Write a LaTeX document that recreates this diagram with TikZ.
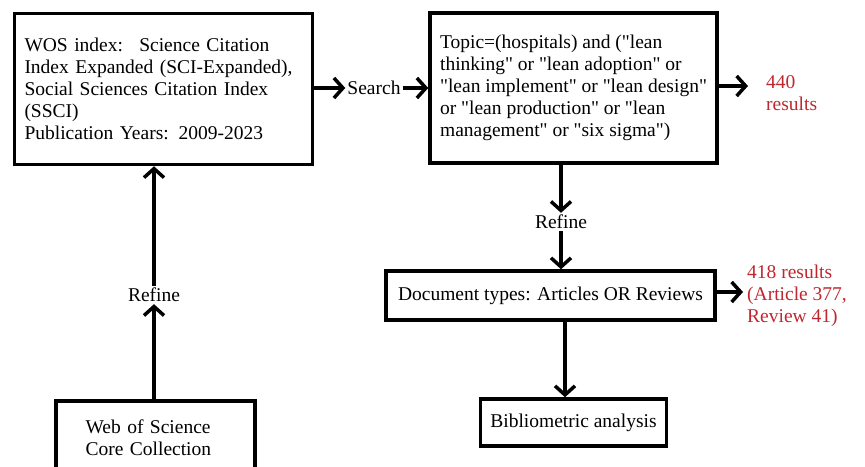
\documentclass[tikz,border=0pt]{standalone}
\usepackage{fontspec}
\setmainfont{Liberation Serif}[Ligatures=TeXOff]
\usetikzlibrary{arrows.meta}
\definecolor{resred}{RGB}{192,38,45}

\begin{document}
\begin{tikzpicture}[x=1pt, y=-1pt, font=\fontsize{19.5}{22}\selectfont,
	box/.style={draw=black, line width=3.5pt, inner xsep=10pt, inner ysep=4pt, align=left},
	arr/.style={line width=3.5pt, -{Straight Barb[length=9pt,width=20pt]}},
	lbl/.style={inner sep=2pt},
	res/.style={text=resred, align=left, inner sep=0pt, anchor=west}]
	\useasboundingbox (0,0) rectangle (865,466);
	\clip (0,0) rectangle (865,466);

	\node[box, minimum width=298pt, minimum height=151pt, text width=278pt] (wos) at (163.5,89)
	{WOS index:~ Science Citation\\Index Expanded (SCI-Expanded),\\Social Sciences Citation Index\\(SSCI)\\Publication Years: 2009-2023};
	\node[box, minimum width=287pt, minimum height=150pt] (topic) at (573.5,88)
	{Topic=(hospitals) and ("lean\\thinking" or "lean adoption" or\\"lean implement" or "lean design"\\or "lean production" or "lean\\management" or "six sigma")};
	\node[box, minimum width=329pt, minimum height=49pt] (doctype) at (550.5,295.5) {Document types: Articles OR Reviews};
	\node[box, minimum width=183pt, minimum height=47pt] (biblio) at (573.5,422.5) {Bibliometric analysis};
	\node[box, minimum width=199pt, minimum height=73pt, text width=140pt] (wosdb) at (155.5,437.5)
	{Web of Science\\Core Collection};

	\node[lbl] (search) at (374,88) {Search};
	\node[lbl] (refineA) at (154,295) {Refine};
	\node[lbl] (refineB) at (561,222) {Refine};

	\coordinate (hitsA) at (748,86);
	\coordinate (hitsB) at (743,292);
	\node[res] (resA) at (766,93) {440\\results};
	\node[res] (resB) at (747,296) {418 results\\(Article 377,\\Review 41)};

	\draw[arr] (wos.east |- search) -- (search.west);
	\draw[arr] (search.east) -- (topic.west |- search);
	\draw[arr] (topic.east |- hitsA) -- (hitsA);
	\draw[arr] (refineB |- topic.south) -- (refineB.north);
	\draw[arr] (refineB.south) -- (refineB |- doctype.north);
	\draw[arr] (doctype.east |- hitsB) -- (hitsB);
	\draw[arr] ([xshift=-8.5pt]biblio.north |- doctype.south) -- ([xshift=-8.5pt]biblio.north);
	\draw[arr] (refineA |- wosdb.north) -- (refineA.south);
	\draw[arr] (refineA.north) -- (refineA |- wos.south);
\end{tikzpicture}
\end{document}
